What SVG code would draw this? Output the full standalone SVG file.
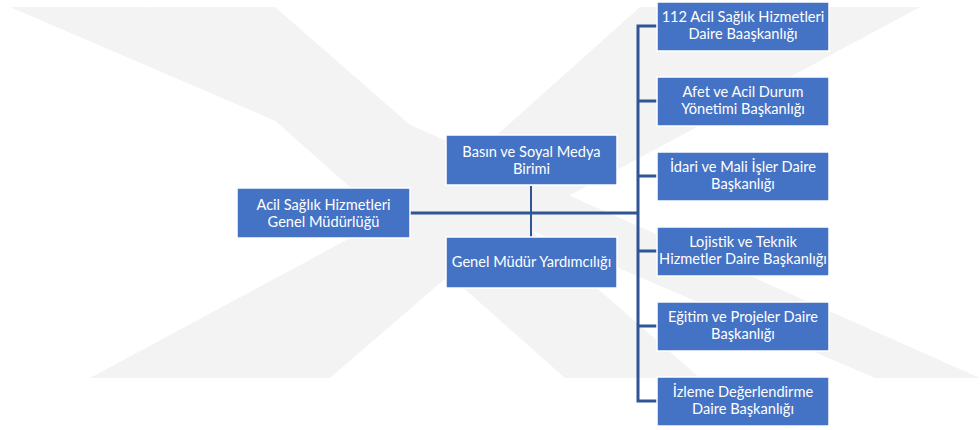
<svg xmlns="http://www.w3.org/2000/svg" width="980" height="430" viewBox="0 0 980 430">
<style>
.bg{fill:#f3f3f3}
.box{fill:#4472c4;stroke:#ffffff;stroke-width:1.5}
.t{font-family:Lato,"Open Sans","Liberation Sans",sans-serif;font-size:14.6px;fill:#ffffff;text-anchor:middle}
.ln{stroke:#2f5597;fill:none;stroke-width:3}
.ln2{stroke:#2f5597;fill:none;stroke-width:2}
</style>
<rect x="0" y="0" width="980" height="430" fill="#ffffff"/>
<g id="watermark">
<polygon class="bg" points="10,7 145,7 980,378 875,378"/>
<polygon class="bg" points="147,7 275,7 700,378 565,378"/>
<polygon class="bg" points="780,7 920,7 230,378 90,378"/>
<polygon class="bg" points="640,7 760,7 330,378 225,378"/>
</g>
<g id="connectors">
<line class="ln" x1="410" y1="213" x2="638" y2="213"/>
<line class="ln2" x1="531" y1="186" x2="531" y2="237"/>
<polyline class="ln" points="657,26 638,26 638,401 657,401"/>
<line class="ln" x1="638" y1="101" x2="657" y2="101"/>
<line class="ln" x1="638" y1="176" x2="657" y2="176"/>
<line class="ln" x1="638" y1="251" x2="657" y2="251"/>
<line class="ln" x1="638" y1="326" x2="657" y2="326"/>
</g>
<g id="n-root">
<rect class="box" x="237" y="188" width="173" height="50"/>
<text class="t" x="323.5" y="210">Acil Sağlık Hizmetleri</text>
<text class="t" x="323.5" y="227">Genel Müdürlüğü</text>
</g>
<g id="n-basin">
<rect class="box" x="446" y="135" width="171" height="50"/>
<text class="t" x="531.5" y="157">Basın ve Soyal Medya</text>
<text class="t" x="531.5" y="174">Birimi</text>
</g>
<g id="n-gmy">
<rect class="box" x="446" y="237" width="171" height="51"/>
<text class="t" x="531.5" y="267">Genel Müdür Yardımcılığı</text>
</g>
<g id="n-112">
<rect class="box" x="657" y="2" width="172" height="49"/>
<text class="t" x="743" y="22">112 Acil Sağlık Hizmetleri</text>
<text class="t" x="743" y="39">Daire Baaşkanlığı</text>
</g>
<g id="n-afet">
<rect class="box" x="657" y="77" width="172" height="49"/>
<text class="t" x="743" y="97">Afet ve Acil Durum</text>
<text class="t" x="743" y="114">Yönetimi Başkanlığı</text>
</g>
<g id="n-idari">
<rect class="box" x="657" y="152" width="172" height="49"/>
<text class="t" x="743" y="172">İdari ve Mali İşler Daire</text>
<text class="t" x="743" y="189">Başkanlığı</text>
</g>
<g id="n-lojistik">
<rect class="box" x="657" y="227" width="172" height="49"/>
<text class="t" x="743" y="247">Lojistik ve Teknik</text>
<text class="t" x="743" y="264">Hizmetler Daire Başkanlığı</text>
</g>
<g id="n-egitim">
<rect class="box" x="657" y="302" width="172" height="49"/>
<text class="t" x="743" y="322">Eğitim ve Projeler Daire</text>
<text class="t" x="743" y="339">Başkanlığı</text>
</g>
<g id="n-izleme">
<rect class="box" x="657" y="377" width="172" height="49"/>
<text class="t" x="743" y="397">İzleme Değerlendirme</text>
<text class="t" x="743" y="414">Daire Başkanlığı</text>
</g>
</svg>
